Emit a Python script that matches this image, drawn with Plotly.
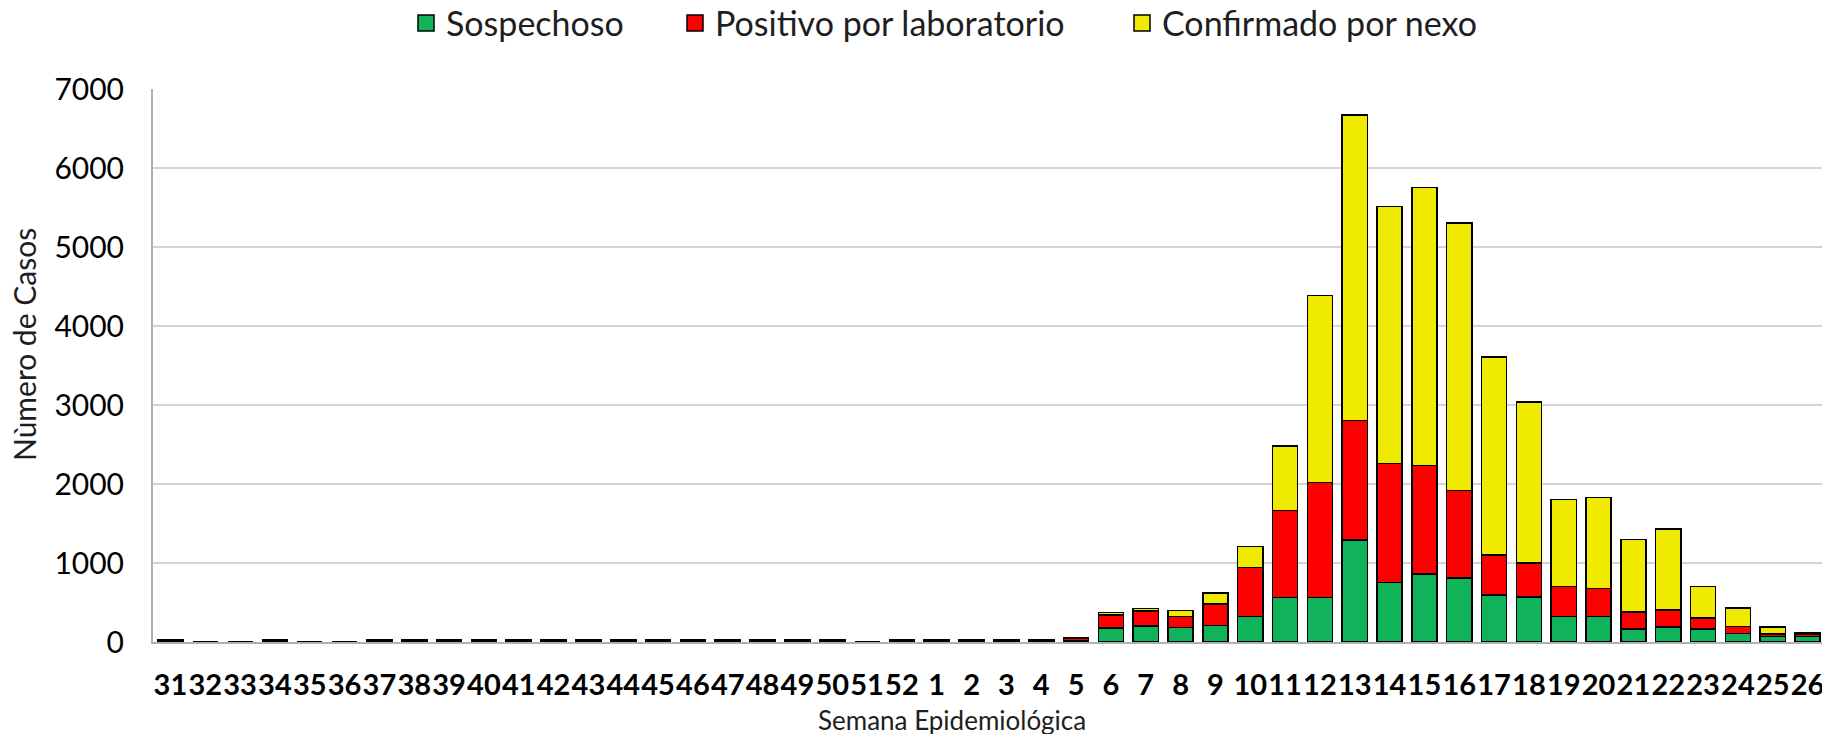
import plotly.graph_objects as go

# Semana epidemiológica (31-52 del año anterior, 1-26 del año actual)
semanas = ["31", "32", "33", "34", "35", "36", "37", "38", "39", "40", "41", "42",
           "43", "44", "45", "46", "47", "48", "49", "50", "51", "52",
           "1", "2", "3", "4", "5", "6", "7", "8", "9", "10", "11", "12", "13",
           "14", "15", "16", "17", "18", "19", "20", "21", "22", "23", "24", "25", "26"]

sospechoso = [15, 0, 0, 15, 0, 0, 15, 15, 15, 15, 15, 15,
              15, 15, 15, 15, 15, 15, 15, 15, 0, 15,
              15, 15, 15, 15, 20, 180, 205, 185, 210, 322, 565, 565, 1291,
              755, 862, 811, 592, 569, 322, 322, 163, 191, 163, 107, 70, 70]

positivo = [12, 0, 0, 12, 0, 0, 12, 12, 12, 12, 12, 12,
            12, 12, 12, 12, 12, 12, 12, 12, 0, 12,
            12, 12, 12, 12, 25, 160, 190, 135, 272, 618, 1102, 1452, 1511,
            1507, 1375, 1109, 512, 433, 382, 354, 214, 214, 140, 89, 30, 30]

confirmado = [3, 0, 0, 3, 0, 0, 3, 3, 3, 3, 3, 3,
              3, 3, 3, 3, 3, 3, 3, 3, 0, 3,
              3, 3, 3, 3, 5, 35, 30, 80, 138, 272, 812, 2372, 3866,
              3251, 3518, 3383, 2503, 2036, 1099, 1155, 918, 1026, 401, 237, 91, 16]

series = [
    ("Sospechoso", sospechoso, "#10B25A", "legend"),
    ("Positivo por laboratorio", positivo, "#FF0000", "legend2"),
    ("Confirmado por nexo", confirmado, "#F0EA00", "legend3"),
]

# page body has an 8px default margin, so the figure is 8px smaller
W, H = 1822, 726

fig = go.Figure()
for name, vals, color, leg in series:
    fig.add_trace(go.Bar(
        x=semanas, y=vals, name=name, showlegend=False,
        marker=dict(color=color, line=dict(color="black", width=1.5)),
    ))
    # legend entry with a bigger square
    fig.add_trace(go.Scatter(
        x=[None], y=[None], mode="markers", name=name, legend=leg,
        marker=dict(symbol="square", size=16, color=color,
                    line=dict(color="black", width=1.5)),
    ))

leg_style = dict(orientation="h", xref="container", yref="container",
                 xanchor="left", yanchor="middle", y=1 - 15.5 / H,
                 font=dict(family="Lato", size=34, color="#1e1e1e"),
                 bgcolor="rgba(0,0,0,0)")

fig.update_layout(
    width=W, height=H,
    margin=dict(l=145, r=5, t=81, b=92),
    plot_bgcolor="white", paper_bgcolor="white",
    barmode="stack", bargap=0.28,
    font=dict(family="Lato", color="#1e1e1e"),
    legend=dict(x=398 / W, **leg_style),
    legend2=dict(x=667 / W, **leg_style),
    legend3=dict(x=1114 / W, **leg_style),
    xaxis=dict(
        type="category", showline=True, linecolor="#B0B0B0", linewidth=2,
        tickmode="array", tickvals=semanas, ticktext=semanas, tickangle=0,
        tickfont=dict(family="Lato", size=29, color="black", weight="bold"),
        ticklabelstandoff=16, showgrid=False, automargin=False,
    ),
    yaxis=dict(
        range=[0, 7000], dtick=1000, showline=True, linecolor="#B0B0B0",
        linewidth=2, gridcolor="#D4D4D4", gridwidth=2,
        tickfont=dict(family="Lato", size=30, color="black"),
        ticklabelstandoff=21, zeroline=False, automargin=False,
    ),
    annotations=[
        dict(text="Nùmero de Casos", xref="paper", yref="paper",
             x=(16 - 145) / 1672, y=(634 - 337) / 553, textangle=-90,
             showarrow=False, xanchor="center", yanchor="middle",
             font=dict(family="Lato", size=30, color="#1e1e1e")),
        dict(text="Semana Epidemiológica", xref="paper", yref="paper",
             x=(944 - 145) / 1672, y=(634 - 712) / 553, showarrow=False,
             xanchor="center", yanchor="middle",
             font=dict(family="Lato", size=26, color="#1e1e1e")),
    ],
)

fig.write_html("out.html")
